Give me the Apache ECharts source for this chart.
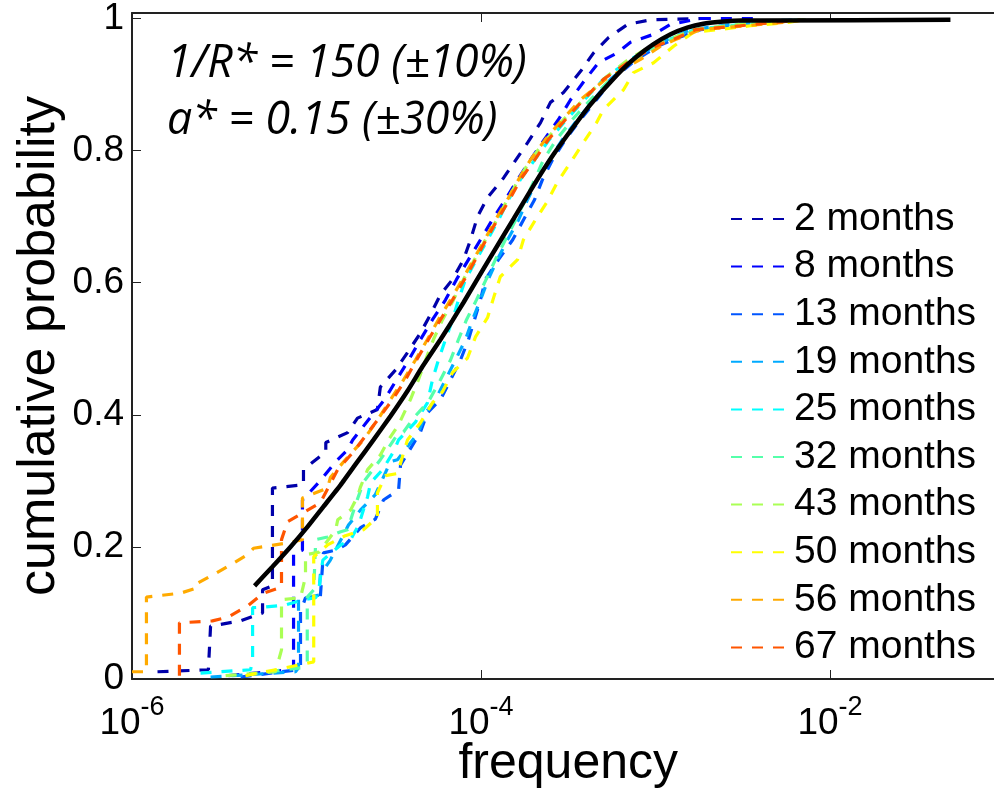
<!DOCTYPE html>
<html>
<head>
<meta charset="utf-8">
<script src="https://cdn.jsdelivr.net/npm/echarts/dist/echarts.min.js"></script>
<style>
  html, body { margin: 0; padding: 0; background: #fff; }
  #chart { width: 994px; height: 790px; }
</style>
</head>
<body>
<div id="chart"></div>
<script>
const m2 = [[1.40e-6,.011],[2.74e-6,.014],[2.82e-6,.080],[4.19e-6,.088],[5.60e-6,.100],[5.60e-6,.135],[6.38e-6,.141],[6.38e-6,.289],[9.61e-6,.294],[9.61e-6,.317],[1.29e-5,.344],[1.29e-5,.358],[1.72e-5,.373],[1.96e-5,.395],[2.55e-5,.408],[2.65e-5,.442],[3.24e-5,.468],[3.79e-5,.494],[4.50e-5,.524],[5.14e-5,.552],[5.86e-5,.582],[6.87e-5,.605],[7.94e-5,.635],[8.71e-5,.665],[9.55e-5,.700],[1.09e-4,.729],[1.35e-4,.759],[1.85e-4,.812],[2.19e-4,.842],[2.50e-4,.873],[2.97e-4,.888],[3.72e-4,.920],[4.42e-4,.948],[5.38e-4,.971],[6.92e-4,.991],[9.36e-4,.998],[1.81e-3,1]]
const m8 = [[3.57e-6,.005],[8.09e-6,.014],[8.43e-6,.017],[8.43e-6,.191],[9.48e-6,.195],[9.48e-6,.271],[1.18e-5,.298],[1.47e-5,.329],[1.72e-5,.347],[1.84e-5,.362],[2.26e-5,.392],[2.80e-5,.423],[3.28e-5,.453],[3.85e-5,.483],[4.50e-5,.514],[5.27e-5,.544],[6.26e-5,.574],[7.24e-5,.605],[8.48e-5,.635],[9.93e-5,.665],[1.16e-4,.695],[1.38e-4,.726],[1.62e-4,.756],[1.92e-4,.786],[2.31e-4,.817],[2.78e-4,.847],[3.26e-4,.877],[3.97e-4,.908],[4.71e-4,.933],[6.05e-4,.948],[7.19e-4,.964],[9.75e-4,.976],[1.22e-3,.991],[1.81e-3,1],[3.99e-3,1]]
const m13 = [[4.19e-6,.003],[8.88e-6,.014],[9.24e-6,.021],[9.24e-6,.102],[9.87e-6,.123],[1.20e-5,.124],[1.25e-5,.191],[1.47e-5,.195],[1.67e-5,.203],[2.04e-5,.229],[2.48e-5,.242],[2.76e-5,.271],[3.37e-5,.286],[3.46e-5,.324],[4.50e-5,.374],[4.93e-5,.403],[5.86e-5,.423],[6.69e-5,.453],[7.63e-5,.483],[8.48e-5,.514],[9.18e-5,.544],[9.93e-5,.574],[1.06e-4,.605],[1.26e-4,.635],[1.52e-4,.665],[1.75e-4,.695],[2.03e-4,.726],[2.25e-4,.756],[2.57e-4,.786],[3.05e-4,.817],[3.72e-4,.847],[4.59e-4,.877],[5.66e-4,.908],[7.78e-4,.938],[1.03e-3,.958],[1.26e-3,.968],[1.81e-3,.983],[3.28e-3,.991],[5.93e-3,.997],[7.24e-3,.998]]
const m19 = [[2.82e-6,.003],[8.65e-6,.011],[9.0e-6,.017],[9.0e-6,.120],[1.18e-5,.127],[1.20e-5,.158],[1.37e-5,.180],[1.74e-5,.233],[2.04e-5,.256],[2.48e-5,.279],[3.03e-5,.329],[3.32e-5,.332],[4.38e-5,.373],[4.81e-5,.403],[5.48e-5,.423],[6.26e-5,.453],[7.14e-5,.483],[8.15e-5,.514],[8.94e-5,.544],[9.93e-5,.574],[1.10e-4,.605],[1.24e-4,.635],[1.42e-4,.665],[1.64e-4,.695],[1.85e-4,.726],[2.11e-4,.756],[2.47e-4,.786],[2.93e-4,.817],[3.57e-4,.847],[4.42e-4,.877],[5.52e-4,.908],[7.58e-4,.938],[9.75e-4,.958],[1.17e-3,.968],[1.59e-3,.983],[2.69e-3,.991],[5.2e-3,.997],[6.77e-3,.998]]
const m25 = [[2.47e-6,.009],[4.78e-6,.014],[4.91e-6,.029],[4.91e-6,.108],[5.82e-6,.109],[7.58e-6,.112],[9.61e-6,.120],[1.13e-5,.123],[1.18e-5,.138],[1.24e-5,.180],[1.57e-5,.203],[1.79e-5,.211],[1.99e-5,.233],[2.24e-5,.276],[2.33e-5,.297],[2.73e-5,.317],[3.15e-5,.344],[3.37e-5,.362],[4.21e-5,.389],[4.93e-5,.418],[5.27e-5,.453],[5.70e-5,.483],[6.26e-5,.514],[6.87e-5,.544],[7.43e-5,.574],[8.15e-5,.605],[9.42e-5,.635],[1.09e-4,.665],[1.26e-4,.695],[1.44e-4,.726],[1.68e-4,.756],[2.03e-4,.786],[2.47e-4,.817],[3.09e-4,.847],[3.92e-4,.877],[5.03e-4,.908],[7.19e-4,.938],[9.62e-4,.958],[1.19e-3,.968],[1.67e-3,.983],[3.07e-3,.991],[5.93e-3,.997],[7.53e-3,.998]]
const m32 = [[6.06e-6,.011],[9.24e-6,.017],[1.01e-5,.024],[1.01e-5,.124],[1.10e-5,.135],[1.13e-5,.211],[1.32e-5,.215],[1.57e-5,.223],[1.72e-5,.226],[1.91e-5,.264],[2.12e-5,.298],[2.65e-5,.332],[3.32e-5,.370],[3.60e-5,.374],[4.10e-5,.395],[5.00e-5,.420],[5.86e-5,.453],[6.69e-5,.483],[7.43e-5,.514],[8.26e-5,.544],[9.42e-5,.574],[1.07e-4,.605],[1.21e-4,.635],[1.38e-4,.665],[1.58e-4,.695],[1.80e-4,.726],[2.03e-4,.756],[2.28e-4,.786],[2.71e-4,.817],[3.34e-4,.847],[4.24e-4,.877],[5.52e-4,.908],[7.58e-4,.938],[1.0e-3,.958],[1.22e-3,.968],[1.74e-3,.983],[3.28e-3,.991],[5.93e-3,.997],[7.53e-3,.998]]
const m43 = [[3.44e-6,.005],[6.64e-6,.011],[7.19e-6,.044],[7.19e-6,.120],[9.24e-6,.123],[9.87e-6,.155],[9.87e-6,.188],[1.18e-5,.192],[1.47e-5,.226],[1.51e-5,.241],[1.79e-5,.256],[1.96e-5,.276],[2.04e-5,.291],[2.24e-5,.317],[2.65e-5,.339],[2.95e-5,.362],[3.37e-5,.385],[3.94e-5,.423],[4.38e-5,.453],[4.81e-5,.483],[5.34e-5,.514],[6.02e-5,.544],[6.95e-5,.574],[7.94e-5,.605],[9.18e-5,.635],[1.06e-4,.665],[1.23e-4,.695],[1.42e-4,.726],[1.64e-4,.756],[1.92e-4,.786],[2.37e-4,.817],[2.97e-4,.847],[3.86e-4,.877],[5.03e-4,.908],[7.0e-4,.938],[9.36e-4,.958],[1.19e-3,.968],[1.65e-3,.983],[3.07e-3,.991],[5.20e-3,.995],[7.24e-3,.998]]
const m50 = [[4.47e-6,.005],[7.58e-6,.017],[1.10e-5,.026],[1.10e-5,.185],[1.32e-5,.203],[1.67e-5,.217],[2.12e-5,.226],[2.55e-5,.245],[2.55e-5,.282],[2.84e-5,.308],[3.32e-5,.311],[3.79e-5,.362],[4.50e-5,.388],[5.27e-5,.418],[6.02e-5,.435],[6.87e-5,.464],[8.37e-5,.486],[9.30e-5,.518],[1.09e-4,.547],[1.18e-4,.577],[1.29e-4,.609],[1.62e-4,.635],[1.75e-4,.665],[2.05e-4,.695],[2.40e-4,.723],[2.74e-4,.752],[3.26e-4,.782],[3.86e-4,.812],[4.59e-4,.842],[5.03e-4,.862],[6.56e-4,.892],[7.48e-4,.918],[9.75e-4,.933],[1.27e-3,.958],[1.65e-3,.979],[2.26e-3,.983],[3.50e-3,.989],[5.78e-3,.994],[6.77e-3,.997]]
const m56 = [[1.0e-6,.011],[1.21e-6,.011],[1.21e-6,.124],[1.90e-6,.130],[2.37e-6,.138],[2.37e-6,.145],[2.93e-6,.158],[3.57e-6,.171],[4.59e-6,.188],[4.97e-6,.198],[7.78e-6,.206],[9.48e-6,.211],[9.48e-6,.274],[1.32e-5,.289],[1.37e-5,.305],[1.67e-5,.332],[2.12e-5,.362],[2.55e-5,.392],[3.03e-5,.423],[3.60e-5,.453],[4.21e-5,.483],[4.93e-5,.514],[5.70e-5,.544],[6.69e-5,.574],[7.83e-5,.605],[9.06e-5,.635],[1.05e-4,.665],[1.21e-4,.695],[1.42e-4,.726],[1.64e-4,.756],[1.92e-4,.786],[2.34e-4,.817],[2.93e-4,.847],[3.72e-4,.877],[5.17e-4,.908],[8.20e-4,.938],[1.07e-3,.958],[1.30e-3,.968],[1.81e-3,.983],[3.99e-3,.991],[5.93e-3,.995],[7.24e-3,.998]]
const m67 = [[1.87e-6,.005],[1.87e-6,.085],[2.89e-6,.088],[3.57e-6,.094],[4.66e-6,.112],[5.67e-6,.130],[7.19e-6,.139],[7.19e-6,.211],[7.78e-6,.238],[9.61e-6,.252],[1.20e-5,.267],[1.51e-5,.317],[1.86e-5,.344],[2.55e-5,.392],[3.11e-5,.423],[3.69e-5,.453],[4.27e-5,.483],[5.00e-5,.514],[5.86e-5,.544],[6.87e-5,.574],[8.04e-5,.605],[9.30e-5,.635],[1.07e-4,.665],[1.24e-4,.695],[1.46e-4,.726],[1.68e-4,.756],[2.03e-4,.786],[2.44e-4,.817],[3.05e-4,.847],[3.86e-4,.877],[5.03e-4,.908],[7.38e-4,.938],[1.0e-3,.958],[1.26e-3,.968],[1.69e-3,.983],[3.07e-3,.989],[5.2e-3,.995],[6.77e-3,.998]]

// fitted curve (black)
const fitCurve = [[5.04e-6,.141],[6.38e-6,.170],[8.09e-6,.200],[1.01e-5,.230],[1.25e-5,.261],[1.57e-5,.294],[1.96e-5,.329],[2.42e-5,.362],[3.03e-5,.398],[3.79e-5,.436],[4.62e-5,.473],[5.86e-5,.514],[6.87e-5,.543],[7.94e-5,.570],[1.10e-4,.633],[1.54e-4,.697],[2.0e-4,.747],[2.60e-4,.794],[3.26e-4,.830],[4.07e-4,.864],[5.03e-4,.892],[6.30e-4,.920],[7.78e-4,.942],[9.75e-4,.961],[1.22e-3,.976],[1.52e-3,.986],[1.88e-3,.992],[2.36e-3,.995],[3.07e-3,.997],[3.99e-3,.997],[4.9e-2,.998]]

const names = ['2 months', '8 months', '13 months', '19 months', '25 months', '32 months', '43 months', '50 months', '56 months', '67 months']
const curves = [m2, m8, m13, m19, m25, m32, m43, m50, m56, m67]
const colors = ['#0000AA', '#0000FF', '#0055FF', '#00AAFF', '#00FFFF', '#55FFAA', '#AAFF55', '#FFFF00', '#FFAA00', '#FF5500']
const xTicks = [-6, -4, -2]
const yTicks = [0, 0.2, 0.4, 0.6, 0.8, 1]

const font = 'Liberation Sans'
const axisColor = '#222'

const chart = echarts.init(document.getElementById('chart'), null, { renderer: 'canvas' })

const series = names.map((name, i) => ({
  name: name,
  type: 'line',
  data: curves[i],
  symbol: 'none',
  color: colors[i],
  lineStyle: { width: 3.2, type: [11, 10], color: colors[i] },
  z: 2
}))
series.push({
  name: 'fit',
  type: 'line',
  data: fitCurve,
  symbol: 'none',
  smooth: 0.15,
  lineStyle: { width: 4.5, color: '#000' },
  z: 3
})

const xLabel = v => {
  const e = Math.round(Math.log10(v))
  return xTicks.indexOf(e) >= 0 ? '{b|10}{s|' + e + '}' : ''
}

const options = {
  animation: false,
  // the box runs past the right edge of the picture, as in the original
  grid: { left: 132, width: 872.5, top: 13, height: 666, outerBoundsMode: 'none', containLabel: false },
  xAxis: [{
    type: 'log',
    logBase: 10,
    min: 1e-6,
    max: 0.1,
    interval: 2,
    position: 'bottom',
    axisLine: { show: true, lineStyle: { color: axisColor, width: 2 } },
    axisTick: { show: true, inside: true, length: 9, lineStyle: { color: axisColor, width: 1 } },
    splitLine: { show: false },
    minorTick: { show: false },
    axisLabel: {
      margin: 15,
      formatter: xLabel,
      rich: {
        b: { fontSize: 37, fontFamily: font, color: '#000' },
        s: { fontSize: 27, fontFamily: font, color: '#000', padding: [0, 0, 32, 0] }
      }
    },
    name: 'frequency',
    nameLocation: 'middle',
    nameGap: 60,
    nameMoveOverlap: false,
    nameTextStyle: { fontSize: 50, fontFamily: font, color: '#000' }
  }, {
    type: 'log',
    logBase: 10,
    min: 1e-6,
    max: 0.1,
    interval: 2,
    position: 'top',
    axisLine: { show: true, lineStyle: { color: axisColor, width: 2 } },
    axisTick: { show: true, inside: true, length: 9, lineStyle: { color: axisColor, width: 1 } },
    splitLine: { show: false },
    axisLabel: { show: false }
  }],
  yAxis: {
    type: 'value',
    min: 0,
    max: 1.0083,
    interval: 0.2,
    axisLine: { show: true, lineStyle: { color: axisColor, width: 2 } },
    axisTick: { show: true, inside: true, length: 9, lineStyle: { color: axisColor, width: 1 } },
    splitLine: { show: false },
    axisLabel: {
      margin: 8,
      fontSize: 37,
      fontFamily: font,
      color: '#000',
      formatter: v => {
        const t = yTicks.find(k => Math.abs(k - v) < 1e-6)
        return t === undefined ? '' : String(t)
      }
    },
    name: 'cumulative probability',
    nameLocation: 'middle',
    nameGap: 66,
    nameMoveOverlap: false,
    nameTextStyle: { fontSize: 52, fontFamily: font, color: '#000' }
  },
  legend: {
    data: names,
    orient: 'vertical',
    left: 730,
    top: 199,
    padding: 0,
    itemWidth: 58,
    itemHeight: 14,
    itemGap: 7.6,
    selectedMode: false,
    itemStyle: { opacity: 0 },
    textStyle: { fontSize: 39, fontFamily: font, color: '#000', lineHeight: 40 }
  },
  graphic: [{
    type: 'text',
    x: 167,
    y: 64,
    scaleX: 0.97,
    style: { text: '1/R* = 150 (±10%)', fontSize: 46, fontFamily: 'Open Sans', fontStyle: 'italic', fill: '#000', align: 'left', verticalAlign: 'middle' }
  }, {
    type: 'text',
    x: 167,
    y: 121,
    scaleX: 0.97,
    style: { text: 'a* = 0.15 (±30%)', fontSize: 46, fontFamily: 'Open Sans', fontStyle: 'italic', fill: '#000', align: 'left', verticalAlign: 'middle' }
  }],
  series: series
}

chart.setOption(options)
</script>
</body>
</html>
